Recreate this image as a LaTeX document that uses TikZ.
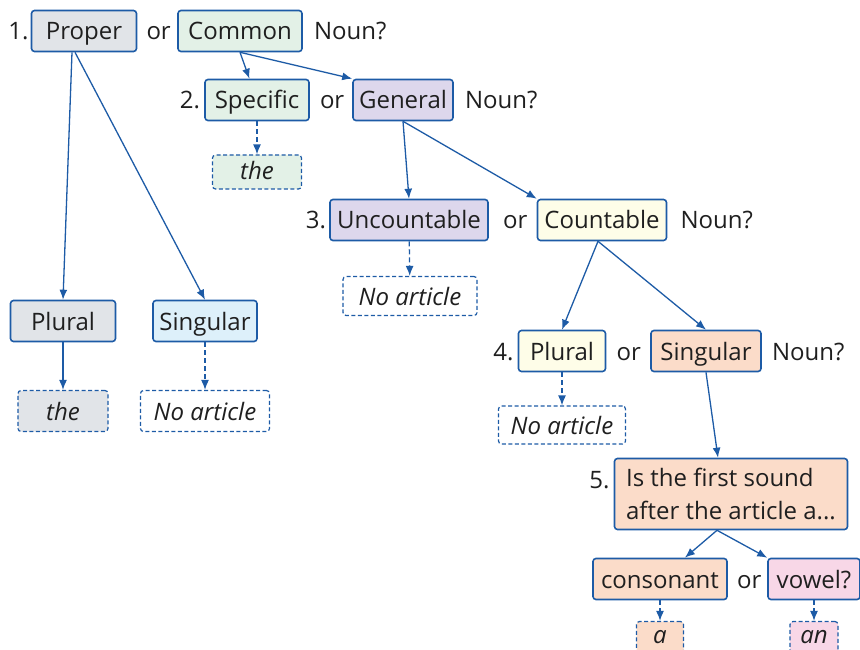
\documentclass[tikz,border=0pt]{standalone}
\usepackage{fontspec}
\setmainfont{Open Sans}
\usetikzlibrary{arrows.meta,positioning}
\definecolor{edgeblue}{HTML}{1D5BA6}
\definecolor{grayfill}{HTML}{E1E4E8}
\definecolor{greenfill}{HTML}{E3F1E7}
\definecolor{lavfill}{HTML}{DDD7EC}
\definecolor{bluefill}{HTML}{DDF0FA}
\definecolor{yellowfill}{HTML}{FEFDE8}
\definecolor{peachfill}{HTML}{FBDCC9}
\definecolor{pinkfill}{HTML}{F8D7E7}

\begin{document}
\begin{tikzpicture}[x=1pt,y=-1pt,>={Latex[length=10pt,width=8pt]}]
  \tikzstyle{box}=[draw=edgeblue,rounded corners=3pt,line width=1.6pt,minimum height=41pt,inner xsep=4pt,inner ysep=2pt,text height=24pt,text depth=6pt,font=\fontsize{24}{29}\selectfont,text=black!88]
  \tikzstyle{ans}=[box,line width=1.2pt,dash pattern=on 4pt off 2.5pt,font=\fontsize{24}{29}\selectfont\itshape]
  \tikzstyle{word}=[inner sep=1pt,text height=24pt,text depth=6pt,font=\fontsize{24}{29}\selectfont,text=black!88]
  \tikzstyle{link}=[edgeblue,line width=1.3pt,->]
  \tikzstyle{dlink}=[link,dash pattern=on 5pt off 3pt]
  \useasboundingbox (0,0) rectangle (860,650);
  % step 1
  \node[box,fill=grayfill,minimum width=105pt] (proper) at (84,31) {Proper};
  \node[word,left=1pt of proper] (num1) {1.};
  \node[word,right=8pt of proper] (or1) {or};
  \node[box,fill=greenfill,minimum width=124pt] (common) at (240,31) {Common};
  \node[word,right=10pt of common] (noun1) {Noun?};
  % step 2
  \node[box,fill=greenfill,minimum width=104pt] (specific) at (257,100) {Specific};
  \node[word,left=3pt of specific] (num2) {2.};
  \node[word,right=9pt of specific] (or2) {or};
  \node[box,fill=lavfill,minimum width=100pt] (general) at (403,100) {General};
  \node[word,right=10pt of general] (noun2) {Noun?};
  \node[ans,fill=greenfill,minimum width=89pt,minimum height=34pt,text height=20pt,text depth=4pt] (the2) at (257,172) {the};
  % step 1 answers
  \node[box,fill=grayfill,minimum width=105pt] (plural1) at (63,321) {Plural};
  \node[box,fill=bluefill,minimum width=104pt] (singular1) at (205,321) {Singular};
  \node[ans,fill=grayfill,minimum width=90pt] (the1) at (63,411) {the};
  \node[ans,fill=white,minimum width=129pt] (noart1) at (205,411) {No article};
  % step 3
  \node[box,fill=lavfill,minimum width=158pt] (uncount) at (409,220) {Uncountable};
  \node[word,left=2pt of uncount] (num3) {3.};
  \node[word,right=13pt of uncount] (or3) {or};
  \node[box,fill=yellowfill,minimum width=129pt] (count) at (602,220) {Countable};
  \node[word,right=12pt of count] (noun3) {Noun?};
  \node[ans,fill=white,minimum width=134pt,minimum height=39pt] (noart3) at (410,296) {No article};
  % step 4
  \node[box,fill=yellowfill,minimum width=87pt] (plural4) at (562,351) {Plural};
  \node[word,left=3pt of plural4] (num4) {4.};
  \node[word,right=9pt of plural4] (or4) {or};
  \node[box,fill=peachfill,minimum width=110pt] (singular4) at (706,351) {Singular};
  \node[word,right=9pt of singular4] (noun4) {Noun?};
  \node[ans,fill=white,minimum width=127pt,minimum height=38pt] (noart4) at (562,425) {No article};
  % step 5
  \node[box,fill=peachfill,minimum width=233pt,minimum height=71pt,text height=,text depth=,inner ysep=4pt,align=left,font=\fontsize{24}{33}\selectfont] (sound) at (731,494) {Is the first sound\\after the article a...};
  \node[word,left=3pt of sound.west,yshift=15pt] (num5) {5.};
  \node[box,fill=peachfill,minimum width=134pt] (consonant) at (660,579) {consonant};
  \node[word,right=8pt of consonant] (or5) {or};
  \node[box,fill=pinkfill,minimum width=92pt] (vowel) at (814,579) {vowel?};
  \node[ans,fill=peachfill,minimum width=47pt,text height=14pt,text depth=12pt] (arta) at (660,642) {a};
  \node[ans,fill=pinkfill,minimum width=48pt,text height=14pt,text depth=12pt] (artan) at (814,642) {an};
  % connectors
  \draw[link] ([xshift=-12pt]proper.south) -- (plural1.north);
  \draw[link] ([xshift=-9pt]proper.south) -- (singular1.north);
  \draw[link] (plural1) -- (the1);
  \draw[dlink] (singular1) -- (noart1);
  \draw[link] (common.south) -- (specific);
  \draw[link] (common.south) -- (general.north west);
  \draw[dlink] (specific) -- (the2);
  \draw[link] (general.south) -- (uncount.north);
  \draw[link] (general.south) -- (count.north west);
  \draw[dlink] (uncount) -- (noart3);
  \draw[link] ([xshift=-4pt]count.south) -- (plural4.north);
  \draw[link] ([xshift=-4pt]count.south) -- (singular4.north);
  \draw[dlink] (plural4) -- (noart4);
  \draw[link] (singular4.south) -- ([xshift=-13pt]sound.north);
  \draw[link] ([xshift=-14pt]sound.south) -- (consonant);
  \draw[link] ([xshift=-14pt]sound.south) -- (vowel.north west);
  \draw[dlink] (consonant) -- (arta);
  \draw[dlink] (vowel) -- (artan);
\end{tikzpicture}
\end{document}
